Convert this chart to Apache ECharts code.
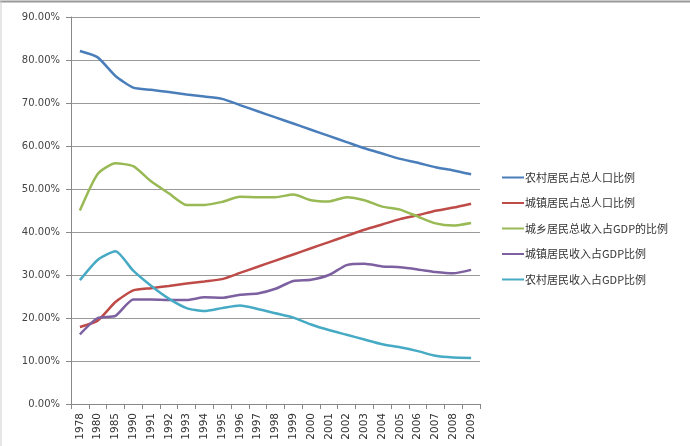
<!DOCTYPE html>
<html><head><meta charset="utf-8">
<script src="https://cdn.jsdelivr.net/npm/echarts@6/dist/echarts.min.js"></script>
<style>html,body{margin:0;padding:0;background:#fff}#c{width:690px;height:446px}</style>
</head><body><div id="c"></div>
<script>
const years = ['1978','1980','1985','1990','1991','1992','1993','1994','1995','1996','1997','1998','1999','2000','2001','2002','2003','2004','2005','2006','2007','2008','2009'];
const ruralPop = [82.08,80.61,76.29,73.59,73.06,72.54,71.99,71.49,70.96,69.52,68.09,66.65,65.22,63.78,62.34,60.91,59.47,58.24,57.01,56.10,55.06,54.32,53.41];
const urbanPop = [17.92,19.39,23.71,26.41,26.94,27.46,28.01,28.51,29.04,30.48,31.91,33.35,34.78,36.22,37.66,39.09,40.53,41.76,42.99,43.90,44.94,45.68,46.59];
const totalIncomeGdp = [45.0,53.5,56.0,55.3,51.8,49.0,46.3,46.3,47.0,48.2,48.1,48.1,48.7,47.4,47.1,48.1,47.4,45.9,45.2,43.6,42.0,41.5,42.1];
const urbanIncomeGdp = [16.2,20.0,20.5,24.3,24.3,24.2,24.2,24.8,24.7,25.4,25.7,26.8,28.6,28.9,30.0,32.3,32.6,32.0,31.8,31.3,30.7,30.4,31.2];
const ruralIncomeGdp = [28.8,33.5,35.5,31.0,27.5,24.5,22.3,21.6,22.3,22.9,22.1,21.1,20.1,18.5,17.2,16.1,15.0,13.9,13.2,12.3,11.2,10.8,10.7];
const names = ['农村居民占总人口比例','城镇居民占总人口比例','城乡居民总收入占GDP的比例','城镇居民收入占GDP比例','农村居民收入占GDP比例'];
const colors = ['#4a7ebb','#be4b48','#98b954','#7d60a0','#46aac5'];
const datas = [ruralPop, urbanPop, totalIncomeGdp, urbanIncomeGdp, ruralIncomeGdp];

const chart = echarts.init(document.getElementById('c'), null, {renderer:'canvas'});
chart.setOption({
  animation:false,
  backgroundColor:'#fff',
  color: colors,
  graphic:[
    {type:'line', shape:{x1:0,y1:1.5,x2:690,y2:1.5}, style:{stroke:'#999',lineWidth:2}},
    {type:'line', shape:{x1:1,y1:0,x2:1,y2:446}, style:{stroke:'#ccc',lineWidth:1}}
  ],
  grid:{left:71, top:17, width:409, height:387, containLabel:false},
  legend:{
    orient:'vertical', left:497, top:167, itemGap:14.5, itemWidth:22, itemHeight:14,
    icon:'path://M0,6 L22,6 L22,8 L0,8 Z',
    textStyle:{fontFamily:'"Noto Sans CJK SC", sans-serif', fontSize:11, color:'#333', padding:[0,0,0,-4]},
    data:names
  },
  xAxis:{
    type:'category', data:years, boundaryGap:true,
    axisLine:{lineStyle:{color:'#888', width:1}},
    axisTick:{show:true, alignWithLabel:false, length:5, lineStyle:{color:'#888'}},
    axisLabel:{rotate:90, interval:0, fontSize:10.5, color:'#333', margin:9, fontFamily:'"DejaVu Sans", sans-serif'}
  },
  yAxis:{
    type:'value', min:0, max:90, interval:10,
    axisLine:{show:true, lineStyle:{color:'#888'}},
    axisTick:{show:true, length:5, lineStyle:{color:'#888'}},
    splitLine:{lineStyle:{color:'#999', width:1}},
    axisLabel:{fontSize:10, color:'#444', margin:11, fontFamily:'"DejaVu Sans", sans-serif', formatter:v=>v.toFixed(2)+'%'}
  },
  series: names.map((n,i)=>({
    name:n, type:'line', data:datas[i], showSymbol:false, symbol:'none', smooth:0.2,
    lineStyle:{width:2.5, color:colors[i]}
  }))
});
</script></body></html>
